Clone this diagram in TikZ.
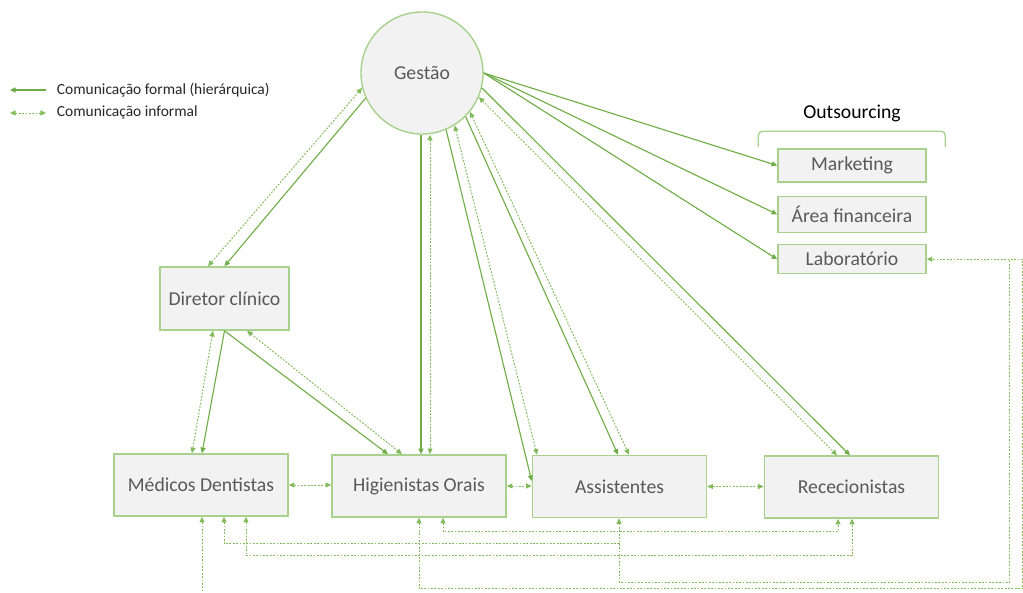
\documentclass[tikz,border=0pt]{standalone}
\usepackage{fontspec}
\setmainfont{Carlito}
\usepackage{tikz}
\usetikzlibrary{calc}
\usetikzlibrary{shapes.geometric}
\usetikzlibrary{arrows.meta,positioning}

\definecolor{linegreen}{RGB}{112,173,71}
\definecolor{dotgreen}{RGB}{130,186,92}
\definecolor{boxgreen}{RGB}{169,209,142}
\definecolor{boxfill}{RGB}{242,242,242}
\definecolor{textgrey}{RGB}{89,89,89}

\tikzset{
  box/.style={rectangle,draw=boxgreen,line width=1.1pt,fill=boxfill,text=textgrey,font=\fontsize{14}{16}\selectfont,minimum width=4.35cm,minimum height=1.55cm,inner sep=0pt},
  smallbox/.style={box,minimum width=3.7cm,minimum height=0.8cm},
  formal/.style={draw=linegreen,line width=0.8pt,->},
  informal/.style={draw=dotgreen,line width=0.7pt,dash pattern=on 1.3pt off 1.1pt,<->},
  legendtext/.style={text=black!85,font=\fontsize{11}{13}\selectfont,anchor=west}
}

\begin{document}
\begin{tikzpicture}[x=0.025cm,y=-0.025cm,>={Triangle[length=4pt,width=3.6pt]}]

\coordinate (TOPLEFT) at (0,0);
\useasboundingbox (TOPLEFT) rectangle ++(1023,592);

% legend
\coordinate (LEGEND1) at ($(TOPLEFT)+(10,90)$);
\coordinate (LEGEND2) at ($(TOPLEFT)+(10,113)$);
\draw[formal] ($(LEGEND1)+(36,0)$) -- (LEGEND1);
\draw[informal] (LEGEND2) -- ($(LEGEND2)+(36,0)$);
\node[legendtext] at ($(LEGEND1)+(42,0)$) (formaltxt) {Comunicação formal (hierárquica)};
\node[legendtext] at ($(LEGEND2)+(42,-1)$) (informaltxt) {Comunicação informal};

%%%%%%%%%%%%%%%%%%%
% draw staff
\node[circle,draw=boxgreen,line width=1pt,fill=boxfill,text=textgrey,font=\fontsize{14}{16}\selectfont,minimum size=3.05cm] at ($(TOPLEFT)+(422,73)$) (GESTAO) {Gestão};
\node[box,minimum width=3.225cm,minimum height=1.575cm] at ($(TOPLEFT)+(224.5,298.5)$) (DIRETOR) {Diretor clínico};
\node[box] at ($(TOPLEFT)+(201,485)$) (MEDICOS) {Médicos Dentistas};
\node[box] at ($(TOPLEFT)+(419,486)$) (HIGIENISTAS) {Higienistas Orais};
\node[box] at ($(TOPLEFT)+(619.5,486.5)$) (ASSISTENTES) {Assistentes};
\node[box] at ($(TOPLEFT)+(851.5,487)$) (RECECIONISTAS) {Rececionistas};

%%%%%%%%%%%%%%%%%%%
% draw outsourcing
\node[smallbox,minimum height=0.825cm] at ($(TOPLEFT)+(852,165.5)$) (MARKETING) {Marketing};
\node[smallbox,minimum height=0.9cm,below=0.32cm of MARKETING] (FINANCEIRA) {Área financeira};
\node[smallbox,minimum height=0.725cm,below=0.27cm of FINANCEIRA] (LABORATORIO) {Laboratório};
\node[text=black,font=\fontsize{14}{16}\selectfont] at ($(MARKETING.north)+(0,-35)$) (OUTSOURCING) {Outsourcing};
\draw[draw=boxgreen,line width=1pt,rounded corners=3pt] ($(MARKETING.north west)+(-19,-1)$) -- ++(0,-16) -- ++(187,0) -- ++(0,16);

%%%%%%%%%%%%%%%%%%%
% from the management
\draw[formal] (GESTAO.204) -- (DIRETOR.north);
\draw[informal] (GESTAO.194) -- ($(DIRETOR.north)+(-16.5,0)$);
\draw[formal] ($(GESTAO.south)+(-1,0)$) -- ($(HIGIENISTAS.north)+(2,0)$);
\draw[informal] ($(GESTAO.south)+(8,0)$) -- ($(HIGIENISTAS.north)+(11,0)$);
\draw[formal] (GESTAO.-67) -- ($(ASSISTENTES.west)+(0,-5.5)$);
\draw[informal] (GESTAO.-58) -- ($(ASSISTENTES.north)+(-82.5,0)$);
\draw[formal] (GESTAO.-45) -- ($(ASSISTENTES.north)+(-1.5,0)$);
\draw[informal] (GESTAO.-39) -- ($(ASSISTENTES.north)+(9.5,0)$);
\draw[informal] (GESTAO.-23) -- ($(RECECIONISTAS.north)+(-14.5,0)$);
\draw[formal] (GESTAO.-14) -- ($(RECECIONISTAS.north)+(-1.5,0)$);
\draw[formal] (GESTAO.east) -- (MARKETING.west);
\draw[formal] (GESTAO.east) -- (FINANCEIRA.west);
\draw[formal] (GESTAO.east) -- (LABORATORIO.west);

% from the clinical director
\draw[formal] (DIRETOR.south) -- ($(MEDICOS.north)+(1,0)$);
\draw[informal] ($(DIRETOR.south)+(-11.5,0)$) -- ($(MEDICOS.north)+(-9,0)$);
\draw[formal] (DIRETOR.south) -- ($(HIGIENISTAS.north)+(-31,0)$);
\draw[informal] ($(DIRETOR.south)+(22.5,0)$) -- ($(HIGIENISTAS.north)+(-17,0)$);

% between the teams
\draw[informal] (MEDICOS.east) -- (MEDICOS.east -| HIGIENISTAS.west);
\draw[informal] (HIGIENISTAS.east) -- (HIGIENISTAS.east -| ASSISTENTES.west);
\draw[informal] (ASSISTENTES.east) -- (ASSISTENTES.east -| RECECIONISTAS.west);

% below the teams
\coordinate (BOTTOMEND) at ($(TOPLEFT)+(202,592)$);
\coordinate (RIGHTIN) at ($(LABORATORIO.east)+(83,0)$);
\coordinate (RIGHTOUT) at ($(LABORATORIO.east)+(96,0)$);
\coordinate (ASSISTLOW) at ($(ASSISTENTES.south)+(-0.5,26)$);
\draw[informal,<-] ($(MEDICOS.south)+(1,0)$) -- (BOTTOMEND);
\draw[informal,<-] ($(MEDICOS.south)+(23,0)$) -- ++(0,27) -| (ASSISTLOW);
\draw[informal] ($(MEDICOS.south)+(45,0)$) -- ++(0,39) -| ($(RECECIONISTAS.south)+(0.5,0)$);
\draw[informal] ($(HIGIENISTAS.south)+(24,0)$) -- ++(0,14) -| ($(RECECIONISTAS.south)+(-13.5,0)$);
\draw[informal,<-] ($(ASSISTENTES.south)+(-0.5,0)$) -- ++(0,64) -| (RIGHTIN);
\draw[informal] (HIGIENISTAS.south) -- ++(0,71) -| (RIGHTOUT) -- (LABORATORIO.east);

\end{tikzpicture}
\end{document}
